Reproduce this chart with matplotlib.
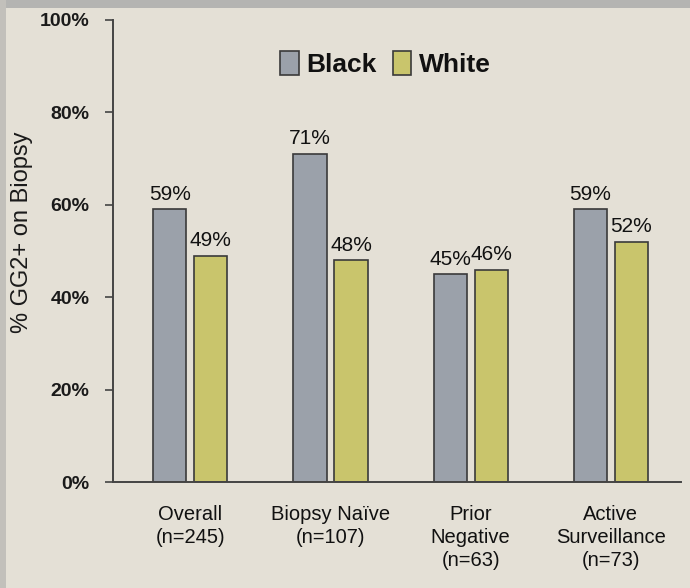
import matplotlib

matplotlib.use("Agg")
import matplotlib.pyplot as plt
import numpy as np
from matplotlib.patches import Rectangle

plt.rcParams["font.family"] = ["Liberation Sans", "DejaVu Sans"]

CATEGORIES = [
    "Overall\n(n=245)",
    "Biopsy Naïve\n(n=107)",
    "Prior\nNegative\n(n=63)",
    "Active\nSurveillance\n(n=73)",
]
BLACK = [59, 71, 45, 59]
WHITE = [49, 48, 46, 52]
SERIES = ["Black", "White"]

BG = "#e4e0d6"
GRAY = "#9ba1aa"
YELLOW = "#c9c56c"
EDGE = "#3a3a3a"


def main() -> None:
    fig = plt.figure(figsize=(6.9, 5.88), dpi=100, facecolor=BG)
    ax = fig.add_axes([0.164, 0.180, 0.823, 0.786])
    ax.set_facecolor(BG)

    # photo edges of the slide
    fig.patches.append(Rectangle((0, 0.986), 1, 0.014, transform=fig.transFigure,
                                 facecolor="#b4b4b2", edgecolor="none"))
    fig.patches.append(Rectangle((0, 0), 0.009, 1, transform=fig.transFigure,
                                 facecolor="#c2c0bb", edgecolor="none"))

    x = np.arange(len(CATEGORIES))
    w = 0.236
    off = 0.146
    b1 = ax.bar(x - off, BLACK, w, color=GRAY, edgecolor=EDGE, linewidth=1.2, label=SERIES[0])
    b2 = ax.bar(x + off, WHITE, w, color=YELLOW, edgecolor=EDGE, linewidth=1.2, label=SERIES[1])

    for bars, vals in ((b1, BLACK), (b2, WHITE)):
        for rect, v in zip(bars, vals):
            ax.text(rect.get_x() + rect.get_width() / 2, v + 1.2, f"{v}%",
                    ha="center", va="bottom", fontsize=15, color="#111111")

    ax.set_xlim(-0.55, 3.5)
    ax.set_ylim(0, 100)
    ax.set_yticks(np.arange(0, 101, 20))
    ax.set_yticklabels([f"{t}%" for t in range(0, 101, 20)], fontsize=14,
                       fontweight="bold", color="#1a1a1a")
    ax.tick_params(axis="y", direction="out", length=6, width=1.2, color="#444444", pad=11)
    ax.set_xticks([])

    for i, lab in enumerate(CATEGORIES):
        ax.text(x[i], -5, lab, ha="center", va="top", fontsize=14.5,
                color="#111111", linespacing=1.25, transform=ax.transData)

    for s in ("top", "right"):
        ax.spines[s].set_visible(False)
    for s in ("left", "bottom"):
        ax.spines[s].set_color("#444444")
        ax.spines[s].set_linewidth(1.4)

    ax.set_ylabel("% GG2+ on Biopsy", fontsize=17, color="#1a1a1a")
    ax.yaxis.set_label_coords(-0.141, 0.54)

    leg = ax.legend(loc="center", bbox_to_anchor=(0.48, 0.905), ncol=2, frameon=False,
                    handlelength=0.7, handleheight=1.0, handletextpad=0.3,
                    columnspacing=0.6, prop={"size": 19, "weight": "bold"})
    for t in leg.get_texts():
        t.set_color("#111111")

    fig.savefig("out.png", dpi=100, facecolor=BG)


if __name__ == "__main__":
    main()
